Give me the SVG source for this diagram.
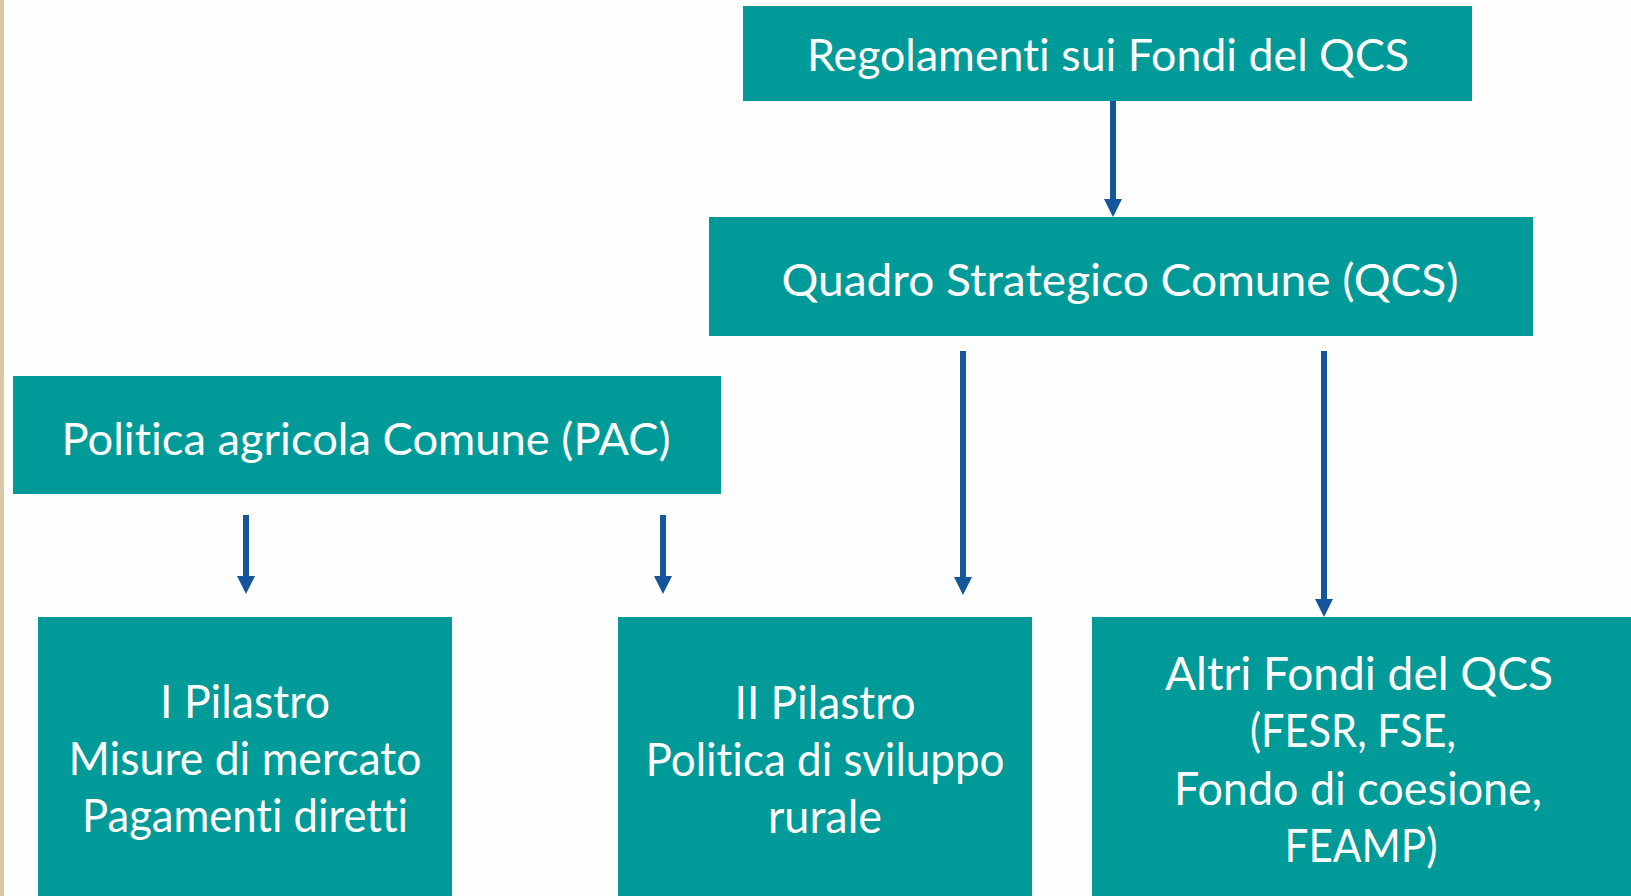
<svg xmlns="http://www.w3.org/2000/svg" width="1631" height="896" viewBox="0 0 1631 896">
<defs>
<style>
.box{fill:#009a98;}
.t{font-family:"Lato","Liberation Sans",sans-serif;fill:#ffffff;text-anchor:middle;font-variant-ligatures:none;}
.t1{font-size:45px;}
.t2{font-size:47px;}
.c{stroke:#15569a;stroke-width:6;fill:none;}
.h{fill:#15569a;}
</style>
</defs>
<rect x="0" y="0" width="1631" height="896" fill="#fefefe"/>
<rect x="0" y="0" width="4" height="896" fill="#d9c9a6"/>
<g id="regolamenti">
<rect class="box" x="743" y="6" width="729" height="95"/>
<text class="t t1" x="1108" y="71" textLength="602" lengthAdjust="spacingAndGlyphs">Regolamenti sui Fondi del QCS</text>
</g>
<g id="qcs">
<rect class="box" x="709" y="217" width="824" height="119"/>
<text class="t t1" x="1120" y="296" textLength="677" lengthAdjust="spacingAndGlyphs">Quadro Strategico Comune (QCS)</text>
</g>
<g id="pac">
<rect class="box" x="13" y="376" width="708" height="118"/>
<text class="t t1" x="366" y="455" textLength="609" lengthAdjust="spacingAndGlyphs">Politica agricola Comune (PAC)</text>
</g>
<g id="pilastro1">
<rect class="box" x="38" y="617" width="414" height="279"/>
<text class="t t2" x="245" y="718" textLength="170" lengthAdjust="spacingAndGlyphs">I Pilastro</text>
<text class="t t2" x="245" y="775" textLength="353" lengthAdjust="spacingAndGlyphs">Misure di mercato</text>
<text class="t t2" x="245" y="832" textLength="326" lengthAdjust="spacingAndGlyphs">Pagamenti diretti</text>
</g>
<g id="pilastro2">
<rect class="box" x="618" y="617" width="414" height="279"/>
<text class="t t2" x="825" y="719" textLength="181" lengthAdjust="spacingAndGlyphs">II Pilastro</text>
<text class="t t2" x="825" y="776" textLength="359" lengthAdjust="spacingAndGlyphs">Politica di sviluppo</text>
<text class="t t2" x="825" y="833" textLength="114" lengthAdjust="spacingAndGlyphs">rurale</text>
</g>
<g id="altri">
<rect class="box" x="1092" y="617" width="539" height="279"/>
<text class="t t2" x="1359" y="690" textLength="388" lengthAdjust="spacingAndGlyphs">Altri Fondi del QCS</text>
<text class="t t2" x="1353" y="747" textLength="206" lengthAdjust="spacingAndGlyphs">(FESR, FSE,</text>
<text class="t t2" x="1358" y="805" textLength="368" lengthAdjust="spacingAndGlyphs">Fondo di coesione,</text>
<text class="t t2" x="1361" y="862" textLength="153" lengthAdjust="spacingAndGlyphs">FEAMP)</text>
</g>
<g id="connectors">
<line class="c" x1="1113" y1="101" x2="1113" y2="200"/>
<polygon class="h" points="1104,199 1122,199 1113,217"/>
<line class="c" x1="963" y1="351" x2="963" y2="578"/>
<polygon class="h" points="954,577 972,577 963,595"/>
<line class="c" x1="1324" y1="351" x2="1324" y2="600"/>
<polygon class="h" points="1315,599 1333,599 1324,617"/>
<line class="c" x1="246" y1="515" x2="246" y2="577"/>
<polygon class="h" points="237,576 255,576 246,594"/>
<line class="c" x1="663" y1="515" x2="663" y2="577"/>
<polygon class="h" points="654,576 672,576 663,594"/>
</g>
</svg>
